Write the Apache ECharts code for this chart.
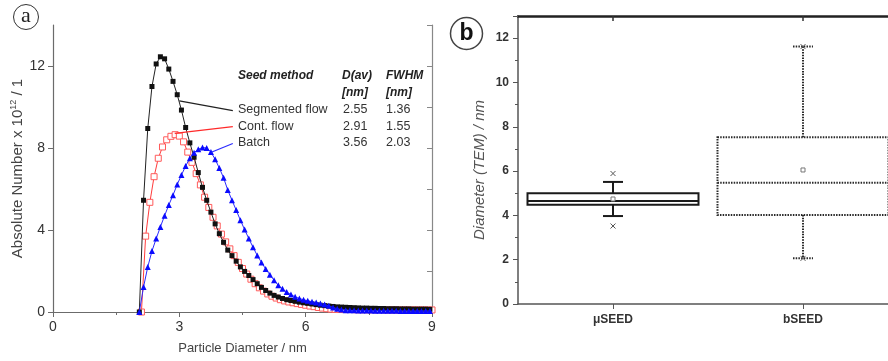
<!DOCTYPE html>
<html>
<head>
<meta charset="utf-8">
<script src="https://cdn.jsdelivr.net/npm/echarts@6/dist/echarts.min.js"></script>
<style>
html,body{margin:0;padding:0;background:#fff;}
#chart{width:888px;height:361px;}
</style>
</head>
<body>
<div id="chart"></div>
<script>
// ---------- Panel (a) data ----------
// particle diameter (nm) for Segmented flow and Batch
const diamSB = [2.05,2.15,2.25,2.35,2.45,2.55,2.65,2.75,2.85,2.95,
  3.05,3.15,3.25,3.35,3.45,3.55,3.65,3.75,3.85,3.95,
  4.05,4.15,4.25,4.35,4.45,4.55,4.65,4.75,4.85,4.95,
  5.05,5.15,5.25,5.35,5.45,5.55,5.65,5.75,5.85,5.95,
  6.05,6.15,6.25,6.35,6.45,6.55,6.65,6.75,6.85,6.95,
  7.05,7.15,7.25,7.35,7.45,7.55,7.65,7.75,7.85,7.95,
  8.05,8.15,8.25,8.35,8.45,8.55,8.65,8.75,8.85,8.95];
// particle diameter (nm) for Cont. flow
const diamC = [2.1,2.2,2.3,2.4,2.5,2.6,2.7,2.8,2.9,3.0,
  3.1,3.2,3.3,3.4,3.5,3.6,3.7,3.8,3.9,4.0,
  4.1,4.2,4.3,4.4,4.5,4.6,4.7,4.8,4.9,5.0,
  5.1,5.2,5.3,5.4,5.5,5.6,5.7,5.8,5.9,6.0,
  6.1,6.2,6.3,6.4,6.5,6.6,6.7,6.8,6.9,7.0,
  7.1,7.2,7.3,7.4,7.5,7.6,7.7,7.8,7.9,8.0,
  8.1,8.2,8.3,8.4,8.5,8.6,8.7,8.8,8.9,9.0];
const segmentedFlow = [0,5.45,8.95,11.0,12.1,12.45,12.35,11.85,11.25,10.6,
  9.85,9.0,8.25,7.55,6.8,6.08,5.45,4.87,4.3,3.82,
  3.4,3.02,2.75,2.48,2.2,1.98,1.78,1.58,1.38,1.2,
  1.05,0.92,0.81,0.73,0.66,0.6,0.56,0.52,0.48,0.45,
  0.42,0.39,0.36,0.33,0.31,0.29,0.27,0.25,0.24,0.23,
  0.22,0.21,0.2,0.19,0.19,0.18,0.18,0.17,0.17,0.16,
  0.16,0.16,0.15,0.15,0.15,0.14,0.14,0.14,0.14,0.13];
const contFlow = [0,3.7,5.35,6.6,7.5,8.05,8.4,8.57,8.65,8.58,
  8.3,7.8,7.3,6.75,6.2,5.6,5.1,4.62,4.2,3.8,
  3.42,3.08,2.75,2.42,2.12,1.85,1.6,1.38,1.18,1.02,
  0.88,0.77,0.68,0.6,0.54,0.49,0.45,0.41,0.37,0.33,
  0.29,0.26,0.22,0.19,0.16,0.14,0.13,0.12,0.12,0.12,
  0.12,0.11,0.11,0.11,0.11,0.11,0.11,0.11,0.1,0.1,
  0.1,0.1,0.1,0.1,0.1,0.1,0.1,0.1,0.1,0.1];
const batch = [0,1.22,2.2,2.97,3.58,4.15,4.7,5.22,5.7,6.22,
  6.68,7.12,7.5,7.77,7.94,8.02,8.0,7.8,7.45,7.02,
  6.55,5.95,5.45,4.97,4.48,4.02,3.58,3.16,2.76,2.42,
  2.1,1.82,1.55,1.3,1.13,0.97,0.85,0.74,0.66,0.6,
  0.55,0.5,0.46,0.42,0.37,0.3,0.22,0.16,0.12,0.09,
  0.08,0.08,0.07,0.07,0.07,0.07,0.06,0.06,0.06,0.06,
  0.06,0.06,0.05,0.05,0.05,0.05,0.05,0.05,0.05,0.05];
// leader lines (data coordinates) from curves to the table rows
const leaderSegmented = [[3.0,10.3],[4.27,9.82]];
const leaderCont = [[2.89,8.71],[4.27,9.04]];
const leaderBatch = [[3.76,7.79],[4.27,8.22]];
// table
const tableHeader = ['Seed method','D(av)','FWHM'];
const tableUnits = ['[nm]','[nm]'];
const seedMethods = ['Segmented flow','Cont. flow','Batch'];
const dAv = ['2.55','2.91','3.56'];
const fwhm = ['1.36','1.55','2.03'];
const xTicksA = [0,3,6,9];
const yTicksA = [0,4,8,12];

// ---------- Panel (b) data ----------
const boxCategories = ['μSEED','bSEED'];
const boxMin = [3.97,2.06];
const boxQ1 = [4.48,4.02];
const boxMedian = [4.65,5.47];
const boxQ3 = [5.0,7.53];
const boxMax = [5.51,11.62];
const boxMean = [4.74,6.05];
const boxLowMark = [3.52,2.06];
const boxHighMark = [5.89,11.62];

const FONT = '"Liberation Sans", Arial, Helvetica, sans-serif';
const chart = echarts.init(document.getElementById('chart'), null, {renderer:'canvas'});

function pairs(xs, ys){ return xs.map((x,i)=>[x, ys[i]]); }
function leader(seg){ return [[{coord: seg[0]}, {coord: seg[1]}]]; }

const boxData = boxCategories.map((c,i)=>[i, boxMin[i], boxQ1[i], boxMedian[i], boxQ3[i], boxMax[i], boxMean[i], boxLowMark[i], boxHighMark[i]]);
const boxLook = [
  {stroke:'#1a1a1a', lineWidth:2, lineDash:null},
  {stroke:'#2a2a2a', lineWidth:2, lineDash:[1.5,1.2]}
];

function renderBox(params, api){
  const cat = api.value(0);
  const vMin = api.value(1), q1 = api.value(2), med = api.value(3), q3 = api.value(4), vMax = api.value(5);
  const mean = api.value(6), lo = api.value(7), hi = api.value(8);
  const look = boxLook[params.dataIndex];
  const bw = api.size([1,0])[0]*0.9;
  const cap = 20;
  const pMin = api.coord([cat,vMin]), pQ1 = api.coord([cat,q1]), pMed = api.coord([cat,med]);
  const pQ3 = api.coord([cat,q3]), pMax = api.coord([cat,vMax]), pMean = api.coord([cat,mean]);
  const pLo = api.coord([cat,lo]), pHi = api.coord([cat,hi]);
  const cx = pQ1[0];
  const st = {fill:null, stroke:look.stroke, lineWidth:look.lineWidth, lineDash:look.lineDash};
  const line = (x1,y1,x2,y2)=>({type:'line', shape:{x1,y1,x2,y2}, style:st});
  const cross = (p)=>({type:'group', children:[
    {type:'line', shape:{x1:p[0]-2.5,y1:p[1]-2.5,x2:p[0]+2.5,y2:p[1]+2.5}, style:{stroke:'#555', lineWidth:1}},
    {type:'line', shape:{x1:p[0]-2.5,y1:p[1]+2.5,x2:p[0]+2.5,y2:p[1]-2.5}, style:{stroke:'#555', lineWidth:1}}
  ]});
  return {type:'group', children:[
    {type:'rect', shape:{x:cx-bw/2, y:pQ3[1], width:bw, height:pQ1[1]-pQ3[1]}, style:st},
    line(cx-bw/2, pMed[1], cx+bw/2, pMed[1]),
    line(cx, pQ3[1], cx, pMax[1]),
    line(cx, pQ1[1], cx, pMin[1]),
    line(cx-cap/2, pMax[1], cx+cap/2, pMax[1]),
    line(cx-cap/2, pMin[1], cx+cap/2, pMin[1]),
    {type:'rect', shape:{x:pMean[0]-2, y:pMean[1]-2, width:4, height:4}, style:{fill:'#fff', stroke:'#777', lineWidth:1}},
    cross(pLo), cross(pHi)
  ]};
}

const tableColX = [238, 342, 386];
const headerY = 76, unitY = 93, rowY = [110, 126.5, 143];
const graphics = [
  {type:'circle', shape:{cx:26, cy:17, r:12.5}, style:{fill:'none', stroke:'#333', lineWidth:1}},
  {type:'text', x:26, y:16, style:{text:'a', font:'22px "Liberation Serif", serif', fill:'#222', align:'center', verticalAlign:'middle'}},
  {type:'circle', shape:{cx:466.5, cy:33.5, r:16}, style:{fill:'none', stroke:'#444', lineWidth:1.5}},
  {type:'text', x:466.5, y:33.5, style:{text:'b', font:'bold 23px '+FONT, fill:'#111', align:'center', verticalAlign:'middle'}}
];
tableHeader.forEach((t,i)=>graphics.push({type:'text', x:tableColX[i], y:headerY,
  style:{text:t, font:'italic bold 12px '+FONT, fill:'#222', verticalAlign:'middle'}}));
tableUnits.forEach((t,i)=>graphics.push({type:'text', x:tableColX[i+1], y:unitY,
  style:{text:t, font:'italic bold 12px '+FONT, fill:'#222', verticalAlign:'middle'}}));
seedMethods.forEach((t,i)=>{
  graphics.push({type:'text', x:tableColX[0], y:rowY[i], style:{text:t, font:'12.5px '+FONT, fill:'#333', verticalAlign:'middle'}});
  graphics.push({type:'text', x:tableColX[1]+1, y:rowY[i], style:{text:dAv[i], font:'12.5px '+FONT, fill:'#333', verticalAlign:'middle'}});
  graphics.push({type:'text', x:tableColX[2], y:rowY[i], style:{text:fwhm[i], font:'12.5px '+FONT, fill:'#333', verticalAlign:'middle'}});
});

const axisGray = '#6b6b6b';
const option = {
  animation:false,
  backgroundColor:'#fff',
  textStyle:{fontFamily:FONT},
  grid:[
    {left:53, top:25, width:379, height:287, outerBoundsMode:'none', containLabel:false},
    {left:518, top:16, width:380, height:288, outerBoundsMode:'none', containLabel:false}
  ],
  xAxis:[
    {type:'value', gridIndex:0, min:0, max:9, interval:3,
     name:'Particle Diameter / nm', nameLocation:'middle', nameGap:30,
     nameTextStyle:{fontSize:13, color:'#444', fontFamily:FONT},
     axisLine:{lineStyle:{color:axisGray, width:1.2}},
     axisTick:{show:true, length:5, lineStyle:{color:axisGray}},
     minorTick:{show:true, splitNumber:2, length:3, lineStyle:{color:axisGray}},
     splitLine:{show:false},
     axisLabel:{fontSize:14, color:'#333', margin:8, fontFamily:FONT,
       formatter:v=>xTicksA.indexOf(v)>=0?String(v):''}},
    {type:'category', gridIndex:1, data:boxCategories, position:'bottom',
     axisLine:{lineStyle:{color:'#555', width:1.5}},
     axisTick:{show:true, alignWithLabel:true, length:5, lineStyle:{color:'#555'}},
     axisLabel:{fontSize:12, fontWeight:'bold', color:'#333', margin:10, fontFamily:FONT},
     splitLine:{show:false}},
    {type:'category', gridIndex:1, data:boxCategories, position:'top',
     axisLine:{lineStyle:{color:'#222', width:2.5}},
     axisTick:{show:true, inside:true, alignWithLabel:true, length:5, lineStyle:{color:'#333', width:1.5}},
     axisLabel:{show:false}, splitLine:{show:false}}
  ],
  yAxis:[
    {type:'value', gridIndex:0, min:0, max:14, interval:4,
     name:'Absolute Number x 10{sup|12} / 1', nameLocation:'middle', nameGap:27,
     nameTextStyle:{fontSize:15, color:'#444', fontFamily:FONT,
       rich:{sup:{fontSize:9, color:'#444', verticalAlign:'top', padding:[0,0,8,0]}}},
     axisLine:{show:true, lineStyle:{color:axisGray, width:1.2}},
     axisTick:{show:true, length:5, lineStyle:{color:axisGray}},
     splitLine:{show:false},
     axisLabel:{fontSize:14, color:'#333', margin:8, showMaxLabel:false, fontFamily:FONT,
       formatter:v=>yTicksA.indexOf(v)>=0?String(v):''}},
    {type:'value', gridIndex:0, min:0, max:14, interval:2, position:'right',
     axisLine:{show:true, lineStyle:{color:'#888', width:1.2}},
     axisTick:{show:true, inside:true, length:5, lineStyle:{color:'#888'}},
     axisLabel:{show:false}, splitLine:{show:false}},
    {type:'value', gridIndex:1, min:0, max:13, interval:2,
     name:'Diameter (TEM) / nm', nameLocation:'middle', nameGap:31,
     nameTextStyle:{fontSize:15, fontStyle:'italic', color:'#555', fontFamily:FONT, padding:[0,20,0,0]},
     axisLine:{show:true, lineStyle:{color:'#555', width:1.5}},
     axisTick:{show:true, length:5, lineStyle:{color:'#555'}},
     minorTick:{show:true, splitNumber:2, length:3, lineStyle:{color:'#555'}},
     splitLine:{show:false},
     axisLabel:{fontSize:12, fontWeight:'bold', color:'#333', margin:9, showMaxLabel:false, fontFamily:FONT}}
  ],
  series:[
    {name:'Cont. flow', type:'line', xAxisIndex:0, yAxisIndex:0, data:pairs(diamC, contFlow),
     symbol:'rect', symbolSize:6, showAllSymbol:true,
     lineStyle:{color:'#ff3b3b', width:1},
     itemStyle:{color:'#fff', borderColor:'#ff5a5a', borderWidth:1},
     markLine:{silent:true, symbol:['none','none'], label:{show:false},
       lineStyle:{color:'#ff2a2a', width:1.2, type:'solid'}, data:leader(leaderCont)},
     z:2},
    {name:'Segmented flow', type:'line', xAxisIndex:0, yAxisIndex:0, data:pairs(diamSB, segmentedFlow),
     symbol:'rect', symbolSize:5, showAllSymbol:true,
     lineStyle:{color:'#222', width:1},
     itemStyle:{color:'#111', borderWidth:0},
     markLine:{silent:true, symbol:['none','none'], label:{show:false},
       lineStyle:{color:'#222', width:1.2, type:'solid'}, data:leader(leaderSegmented)},
     z:3},
    {name:'Batch', type:'line', xAxisIndex:0, yAxisIndex:0, data:pairs(diamSB, batch),
     symbol:'triangle', symbolSize:6, showAllSymbol:true,
     lineStyle:{color:'#2a2aff', width:1},
     itemStyle:{color:'#0a0aff', borderWidth:0},
     markLine:{silent:true, symbol:['none','none'], label:{show:false},
       lineStyle:{color:'#2a2aff', width:1.2, type:'solid'}, data:leader(leaderBatch)},
     z:4},
    {name:'TEM', type:'custom', xAxisIndex:1, yAxisIndex:2, data:boxData,
     encode:{x:0, y:[1,2,3,4,5]}, renderItem:renderBox, clip:false, z:5}
  ],
  graphic:graphics
};
chart.setOption(option);
</script>
</body>
</html>
